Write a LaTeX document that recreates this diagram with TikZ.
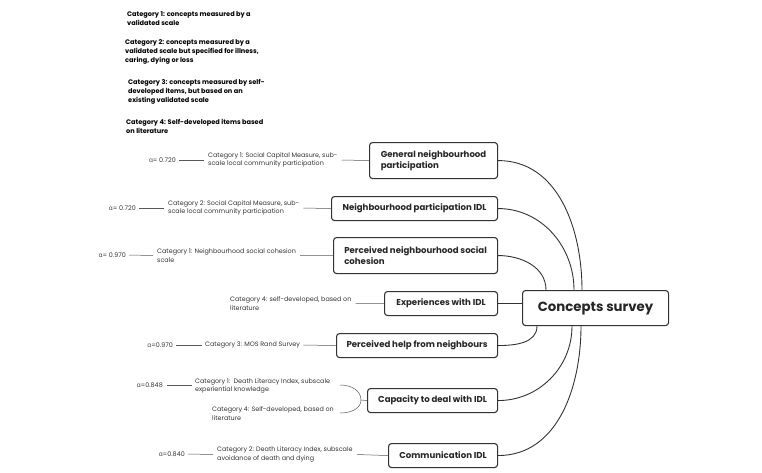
\documentclass[tikz,border=0pt]{standalone}
\usepackage{fontspec}
\setmainfont{Poppins}
\newfontfamily\greekfont{Open Sans}
\newcommand{\alphasym}{{\greekfont α}}
\begin{document}
\begin{tikzpicture}[x=1pt,y=-1pt,
  box/.style={draw=black!80, line width=1.1pt, rounded corners=3pt, fill=white,
    font=\fontsize{8.6}{10.5}\selectfont\bfseries, text=black!85, inner sep=0pt, anchor=north west},
  lbl/.style={font=\fontsize{6.4}{8.3}\selectfont, text=black!80, align=left, inner sep=0pt},
  leg/.style={font=\fontsize{6.6}{9}\selectfont\bfseries, align=left, anchor=north west, inner sep=0pt},
  conn/.style={draw=black!80, line width=0.9pt},
  thin/.style={draw=black!65, line width=0.5pt}]
\useasboundingbox (0,0) rectangle (762,472);

% legend
\node[leg] (l1) at (127,11) {Category 1: concepts measured by a\\validated scale};
\node[leg] (l2) at (125,39) {Category 2: concepts measured by a\\validated scale but specified for illness,\\caring, dying or loss};
\node[leg] (l3) at (128,79) {Category 3: concepts measured by self-\\developed items, but based on an\\existing validated scale};
\node[leg] (l4) at (126,119) {Category 4: Self-developed items based\\on literature};

% central node
\node[box, font=\fontsize{13.3}{15}\selectfont\bfseries, minimum width=146pt, minimum height=35pt] (cs) at (522,290) {Concepts survey};

% concept boxes
\node[box, minimum width=128pt, minimum height=36pt, align=left] (b1) at (369,142) {General neighbourhood\\participation};
\node[box, minimum width=166pt, minimum height=24pt] (b2) at (331,196) {Neighbourhood participation IDL};
\node[box, minimum width=164pt, minimum height=36pt, align=left] (b3) at (333,237) {Perceived neighbourhood social\\cohesion};
\node[box, minimum width=113pt, minimum height=24pt] (b4) at (384,291) {Experiences with IDL};
\node[box, minimum width=161pt, minimum height=24pt] (b5) at (336,333) {Perceived help from neighbours};
\node[box, minimum width=130pt, minimum height=24pt] (b6) at (367,388) {Capacity to deal with IDL};
\node[box, minimum width=109pt, minimum height=24pt] (b7) at (388,443) {Communication IDL};

% connectors to centre
\draw[conn] (b1.east) to[out=0,in=90] ([xshift=60pt]cs.north west);
\draw[conn] (b2.east) to[out=0,in=90] ([xshift=52pt]cs.north west);
\draw[conn] (b3.east) to[out=0,in=90] ([xshift=24pt]cs.north west);
\draw[conn] (b4.east) -- (cs.west |- b4.east);
\draw[conn] (b5.east) to[out=0,in=-90] ([xshift=15pt]cs.south west);
\draw[conn] (b6.east) to[out=0,in=-90] ([xshift=50pt]cs.south west);
\draw[conn] (b7.east) to[out=0,in=-90] ([xshift=59pt]cs.south west);

% row 1
\node[lbl, anchor=west] (c1) at (208,160) {Category 1: Social Capital Measure, sub-\\scale local community participation};
\node[lbl, anchor=east] (a1) at (176,160) {\alphasym= 0.720};
\draw[thin] ([xshift=3pt]a1.east) -- ([xshift=-4pt]c1.west);
\draw[thin] ([xshift=4pt]c1.east) -- (b1.west);

% row 2
\node[lbl, anchor=west] (c2) at (168,208) {Category 2: Social Capital Measure, sub-\\scale local community participation};
\node[lbl, anchor=east] (a2) at (136,208) {\alphasym= 0.720};
\draw[thin] ([xshift=3pt]a2.east) -- ([xshift=-4pt]c2.west);
\draw[thin] ([xshift=4pt]c2.east) -- (b2.west);

% row 3
\node[lbl, anchor=west] (c3) at (157,255.5) {Category 1: Neighbourhood social cohesion\\scale};
\node[lbl, anchor=east] (a3) at (126,255) {\alphasym= 0.970};
\draw[thin] ([xshift=3pt]a3.east) -- ([xshift=-4pt]c3.west);
\draw[thin] ([xshift=4pt]c3.east) -- (b3.west);

% row 4
\node[lbl, anchor=west] (c4) at (230,303.5) {Category 4: self-developed, based on\\literature};
\draw[thin] ([xshift=4pt]c4.east) -- (b4.west);

% row 5
\node[lbl, anchor=west] (c5) at (205,345) {Category 3: MOS Rand Survey};
\node[lbl, anchor=east] (a5) at (173,345) {\alphasym=0.970};
\draw[thin] ([xshift=3pt]a5.east) -- ([xshift=-3pt]c5.west);
\draw[thin] ([xshift=3pt]c5.east) -- (b5.west);

% row 6
\node[lbl, anchor=west] (c6a) at (195,386) {Category 1:\ \ Death Literacy Index, subscale\\experiential knowledge};
\node[lbl, anchor=west] (c6b) at (212,413.5) {Category 4: Self-developed, based on\\literature};
\node[lbl, anchor=east] (a6) at (163,385) {\alphasym=0.848};
\draw[thin] ([xshift=4pt]a6.east) -- ([xshift=-3pt]c6a.west |- a6.east);
\coordinate (br) at (361,400);
\draw[thin] (340,385) .. controls (352,385) and (361,391) .. (br)
  .. controls (361,408) and (352,413) .. (340,413);
\draw[thin] (br) -- (b6.west);

% row 7
\node[lbl, anchor=west] (c7) at (217,454.5) {Category 2: Death Literacy Index, subscale\\avoidance of death and dying};
\node[lbl, anchor=east] (a7) at (185,454) {\alphasym=0.840};
\draw[thin] ([xshift=3pt]a7.east) -- ([xshift=-4pt]c7.west);
\draw[thin] ([xshift=4pt]c7.east) -- (b7.west);
\end{tikzpicture}
\end{document}
